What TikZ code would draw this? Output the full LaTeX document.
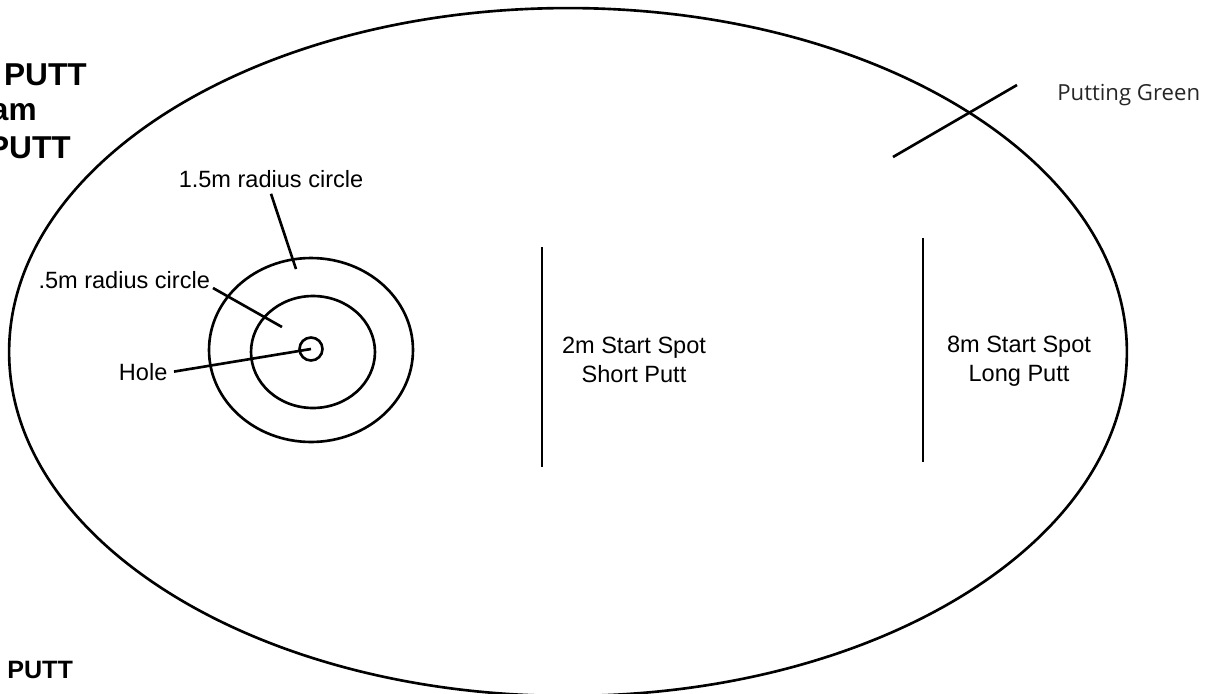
\documentclass[tikz,border=0pt]{standalone}
\usepackage{fontspec}
\setmainfont{Liberation Sans}
\newfontfamily\greenfont{Open Sans}
\begin{document}
\begin{tikzpicture}[x=0.02cm, y=-0.02cm, line width=1.5pt,
  lbl/.style={inner sep=1pt, font=\fontsize{13.4}{16.7}\selectfont, align=center},
  ttl/.style={inner sep=0pt, font=\fontsize{18}{20}\selectfont\bfseries, anchor=base east}]
  \useasboundingbox (0,0) rectangle (1216,693);

  \draw (568,352) ellipse [x radius=11.18cm, y radius=6.88cm];

  \node[ttl] (ta) at (88,85) {T PUTT};
  \node[ttl] (tb) at (38,120) {am};
  \node[ttl] (tc) at (72,158) {PUTT};
  \node[ttl, anchor=base west, font=\fontsize{14.3}{16}\selectfont\bfseries] (td) at (6,678) {PUTT};

  \draw (311,350) ellipse [x radius=2.04cm, y radius=1.84cm];
  \draw (313,352) ellipse [x radius=1.24cm, y radius=1.12cm];
  \node[draw, circle, minimum size=0.46cm, inner sep=0pt] (hole) at (311,349) {};

  \node[lbl, inner sep=3pt, anchor=base] (lbig) at (271,187) {1.5m radius circle};
  \node[lbl, anchor=base east] (lmid) at (213,288) {.5m radius circle};
  \node[lbl, inner sep=3pt, anchor=base east] (lhole) at (174,380) {Hole};
  \coordinate (tipbig) at (296,269);
  \coordinate (tipmid) at (282,327);
  \draw (lbig.south) -- (tipbig);
  \draw (lmid.base east) -- (tipmid);
  \draw (lhole.east) -- (hole.center);

  \coordinate (sa) at (542,247);
  \coordinate (sb) at (542,467);
  \draw (sa) -- (sb);
  \node[lbl] (lshort) at (634,360) {2m Start Spot\\Short Putt};

  \coordinate (la) at (923,238);
  \coordinate (lb) at (923,462);
  \draw (la) -- (lb);
  \node[lbl] (llong) at (1019,361) {8m Start Spot\\Long Putt};

  \node[inner sep=0pt, anchor=base west, font=\greenfont\fontsize{12.6}{15}\selectfont, text=black!85] (lgreen) at (1056,100) {Putting Green};
  \coordinate (ga) at (1017,85);
  \coordinate (gb) at (893,157);
  \draw (ga) -- (gb);
\end{tikzpicture}
\end{document}
